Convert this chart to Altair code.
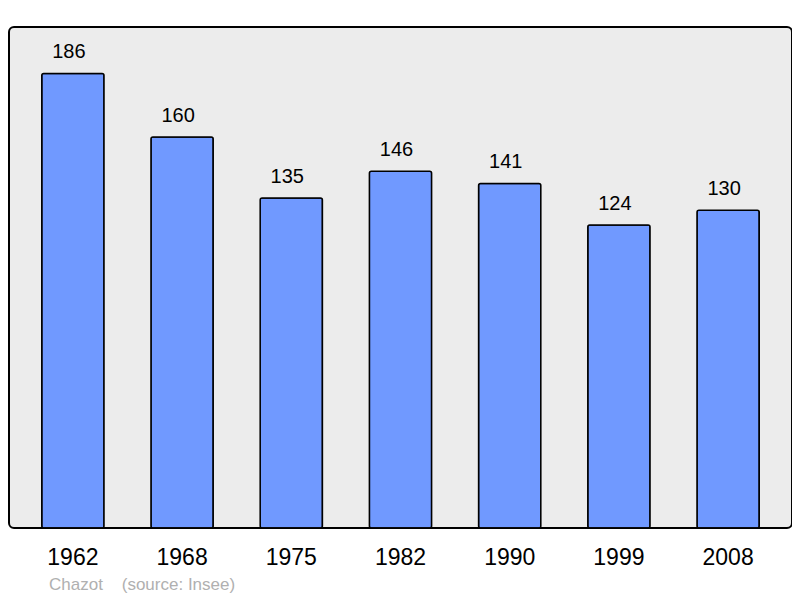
import altair as alt
import pandas as pd

years = ["1962", "1968", "1975", "1982", "1990", "1999", "2008"]
population = [186, 160, 135, 146, 141, 124, 130]
source_text = ["Chazot\u00a0\u00a0\u00a0\u00a0(source: Insee)"]

df = pd.DataFrame({"year": years, "pop": population})
src = pd.DataFrame({"t": source_text})

FONT = "Liberation Sans"

x = alt.X("year:N", sort=years, title=None,
          scale=alt.Scale(paddingInner=0.43, paddingOuter=0.3),
          axis=alt.Axis(labelAngle=0, labelFontSize=23, labelFont=FONT,
                        labelColor="#000000", domain=False, ticks=False, tickSize=0,
                        labelPadding=36, labelBaseline="alphabetic"))
y = alt.Y("pop:Q", title=None, scale=alt.Scale(domain=[0, 205], nice=False, zero=True),
          axis=None)

bars = alt.Chart(df).mark_bar(color="#7099ff", stroke="#000000", strokeWidth=1.5,
                              cornerRadius=2).encode(x=x, y=y)
labels = alt.Chart(df).mark_text(fontSize=20, font=FONT, color="#000000",
                                 baseline="alphabetic", dy=-15, dx=-4).encode(
    x=alt.X("year:N", sort=years), y="pop:Q", text="pop:Q")
source = alt.Chart(src).mark_text(fontSize=17, font=FONT, color="#b0b0b0",
                                  align="left", baseline="alphabetic").encode(
    x=alt.value(40), y=alt.value(563), text="t:N")

chart = alt.layer(bars, labels, source).properties(
    width=783, height=501,
    autosize=alt.AutoSizeParams(type="none"),
    padding={"left": 1, "top": 19, "right": 0, "bottom": 70},
).configure(
    background="#ffffff",
    view=alt.ViewConfig(fill="#ececec", stroke="#000000", strokeWidth=2, cornerRadius=5),
)

chart.save("out.html", embed_options={"renderer": "svg", "actions": False})
